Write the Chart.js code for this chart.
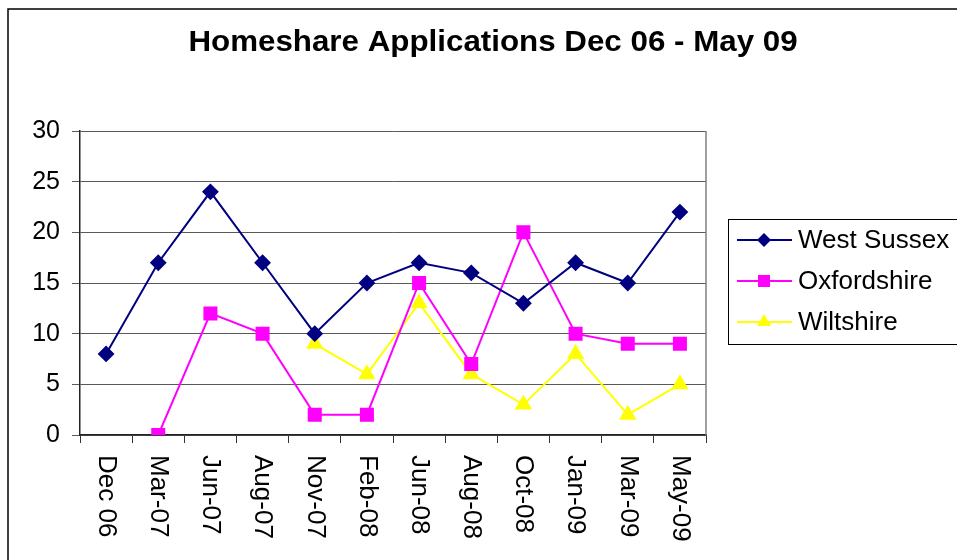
<!DOCTYPE html>
<html>
<head>
<meta charset="utf-8">
<script src="https://cdn.jsdelivr.net/npm/chart.js@4/dist/chart.umd.min.js"></script>
<style>
  html, body { margin: 0; padding: 0; background: #fff; }
  #wrap { width: 957px; height: 560px; }
</style>
</head>
<body>
<div id="wrap"><canvas id="chart" width="957" height="560"></canvas></div>
<script>
const months = ['Dec 06', 'Mar-07', 'Jun-07', 'Aug-07', 'Nov-07', 'Feb-08', 'Jun-08', 'Aug-08', 'Oct-08', 'Jan-09', 'Mar-09', 'May-09'];
const westSussex = [8, 17, 24, 17, 10, 15, 17, 16, 13, 17, 15, 22];
const oxfordshire = [null, 0, 12, 10, 2, 2, 15, 7, 20, 10, 9, 9];
const wiltshire = [null, null, null, null, 9, 6, 13, 6, 3, 8, 2, 5];
const yTicks = [0, 5, 10, 15, 20, 25, 30];

const FONT = '"Liberation Sans", Arial, sans-serif';

// titre, cadre, étiquettes pivotées et légende encadrée
const extras = {
  id: 'extras',
  afterDraw(chart) {
    const ctx = chart.ctx;
    const area = chart.chartArea;
    const x = chart.scales.x;
    ctx.save();

    // cadre extérieur
    ctx.strokeStyle = '#000';
    ctx.lineWidth = 1.5;
    ctx.beginPath();
    ctx.moveTo(8, 562);
    ctx.lineTo(8, 9);
    ctx.lineTo(960, 9);
    ctx.stroke();

    // bord droit de la zone de tracé
    ctx.strokeStyle = '#808080';
    ctx.lineWidth = 1.5;
    ctx.beginPath();
    ctx.moveTo(area.right, area.top);
    ctx.lineTo(area.right, area.bottom);
    ctx.stroke();

    // titre
    ctx.fillStyle = '#000';
    ctx.font = 'bold 29px ' + FONT;
    ctx.textAlign = 'center';
    ctx.textBaseline = 'middle';
    ctx.save();
    ctx.translate(493, 43);
    ctx.scale(1.08, 1);
    ctx.fillText('Homeshare Applications Dec 06 - May 09', 0, 0);
    ctx.restore();

    // étiquettes de l'axe x, lues de haut en bas
    ctx.font = '26px ' + FONT;
    ctx.textAlign = 'left';
    months.forEach((m, i) => {
      ctx.save();
      ctx.translate(x.getPixelForValue(i), area.bottom + 20);
      ctx.rotate(Math.PI / 2);
      ctx.fillText(m, 0, 0);
      ctx.restore();
    });

    // légende
    ctx.strokeStyle = '#000';
    ctx.lineWidth = 1;
    ctx.strokeRect(728.5, 219.5, 260, 125);
    const rows = [240, 281, 322];
    chart.data.datasets.forEach((ds, i) => {
      const y = rows[i];
      ctx.strokeStyle = ds.borderColor;
      ctx.lineWidth = 2;
      ctx.beginPath();
      ctx.moveTo(737, y);
      ctx.lineTo(792, y);
      ctx.stroke();
      ctx.fillStyle = ds.pointBackgroundColor;
      Chart.helpers.drawPoint(ctx, { pointStyle: ds.pointStyle, radius: ds.pointRadius, rotation: 0, borderWidth: 0 }, 764, y);
      ctx.fillStyle = '#000';
      ctx.font = '26px ' + FONT;
      ctx.textAlign = 'left';
      ctx.fillText(ds.label, 798, y + 1);
    });
    ctx.restore();
  }
};

new Chart(document.getElementById('chart'), {
  type: 'line',
  data: {
    labels: months,
    datasets: [
      {
        label: 'West Sussex',
        data: westSussex,
        borderColor: '#000080',
        pointBackgroundColor: '#000080',
        pointBorderColor: '#000080',
        pointStyle: 'rectRot',
        pointRadius: 7,
        borderWidth: 2
      },
      {
        label: 'Oxfordshire',
        data: oxfordshire,
        borderColor: '#ff00ff',
        pointBackgroundColor: '#ff00ff',
        pointBorderColor: '#ff00ff',
        pointStyle: 'rect',
        pointRadius: 8.5,
        borderWidth: 2
      },
      {
        label: 'Wiltshire',
        data: wiltshire,
        borderColor: '#ffff00',
        pointBackgroundColor: '#ffff00',
        pointBorderColor: '#ffff00',
        pointStyle: 'triangle',
        pointRadius: 8,
        borderWidth: 2
      }
    ]
  },
  options: {
    responsive: false,
    animation: false,
    layout: { padding: { left: 0, top: 131, right: 251, bottom: 0 } },
    plugins: {
      legend: { display: false },
      title: { display: false },
      tooltip: { enabled: false }
    },
    elements: { line: { tension: 0 } },
    scales: {
      x: {
        offset: true,
        afterFit(scale) { scale.height = 125; },
        grid: {
          offset: true,
          drawOnChartArea: false,
          drawTicks: true,
          tickLength: 8,
          color: '#333'
        },
        border: { color: '#222', width: 1.5 },
        ticks: { display: false }
      },
      y: {
        min: 0,
        max: 30,
        afterFit(scale) { scale.width = 80; },
        afterBuildTicks(scale) { scale.ticks = yTicks.map(v => ({ value: v })); },
        grid: {
          color: '#5a5a5a',
          lineWidth: 1,
          drawTicks: true,
          tickLength: 8
        },
        border: { color: '#222', width: 1.5 },
        ticks: {
          color: '#000',
          padding: 12,
          font: { family: FONT, size: 25 }
        }
      }
    }
  },
  plugins: [extras]
});
</script>
</body>
</html>
